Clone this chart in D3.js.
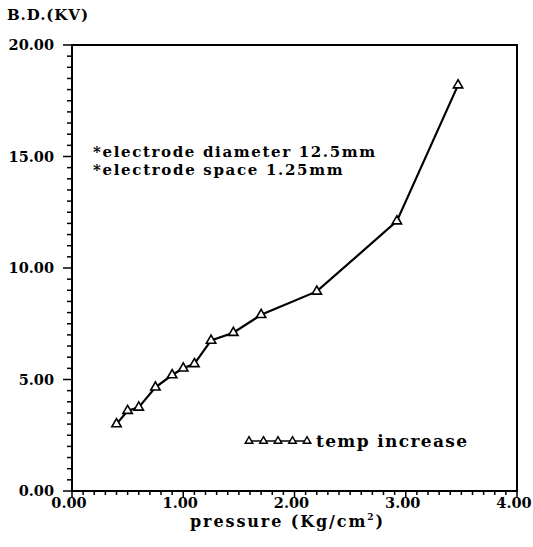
<!DOCTYPE html>
<html>
<head>
<meta charset="utf-8">
<script src="https://cdn.jsdelivr.net/npm/d3@7"></script>
<style>
  body { margin: 0; background: #fff; }
  text { font-family: "DejaVu Serif", serif; font-weight: bold; fill: #000; }
</style>
</head>
<body>
<div id="chart"></div>
<script>
// data
const pressure = [0.40, 0.50, 0.60, 0.75, 0.90, 1.00, 1.10, 1.25, 1.45, 1.70, 2.20, 2.92, 3.47];
const breakdown = [3.0, 3.6, 3.75, 4.65, 5.2, 5.5, 5.7, 6.75, 7.1, 7.9, 8.95, 12.1, 18.2];
const xTickLabels = ["0.00", "1.00", "2.00", "3.00", "4.00"];
const yTickLabels = ["0.00", "5.00", "10.00", "15.00", "20.00"];
const notes = ["*electrode diameter 12.5mm", "*electrode space 1.25mm"];
const seriesName = "temp increase";

const W = 533, H = 547;
const margin = { top: 45, right: 16, bottom: 56, left: 72 };
const width = W - margin.left - margin.right,
      height = H - margin.top - margin.bottom;

const svg = d3.select("#chart").append("svg")
    .attr("width", W)
    .attr("height", H);

const g = svg.append("g")
    .attr("transform", `translate(${margin.left},${margin.top})`);

const x = d3.scaleLinear().domain([0, 4]).range([0, width]);
const y = d3.scaleLinear().domain([0, 20]).range([height, 0]);

// minor ticks
const xMinor = d3.range(0, 41).map(i => i / 10);
const yMinor = d3.range(0, 41).map(i => i / 2);

g.selectAll(".xminor").data(xMinor).enter().append("line")
    .attr("x1", d => x(d)).attr("x2", d => x(d))
    .attr("y1", height).attr("y2", d => height + (d % 1 === 0 ? 7 : 4))
    .attr("stroke", "#000").attr("stroke-width", 1.5);

g.selectAll(".yminor").data(yMinor).enter().append("line")
    .attr("y1", d => y(d)).attr("y2", d => y(d))
    .attr("x1", 0).attr("x2", d => (d % 5 === 0 ? -9 : -5))
    .attr("stroke", "#000").attr("stroke-width", 1.5);

// frame
g.append("rect")
    .attr("width", width).attr("height", height)
    .attr("fill", "none").attr("stroke", "#000").attr("stroke-width", 2);

// tick labels
g.selectAll(".xlab").data(xTickLabels).enter().append("text")
    .attr("x", d => x(+d) - 3)
    .attr("y", height + 17)
    .attr("text-anchor", "middle")
    .style("font-size", "14.5px")
    .text(d => d);

g.selectAll(".ylab").data(yTickLabels).enter().append("text")
    .attr("x", -18)
    .attr("y", d => y(+d) + 5)
    .attr("text-anchor", "end")
    .style("font-size", "14.5px")
    .text(d => d);

// axis titles
svg.append("text")
    .attr("x", 7).attr("y", 20)
    .attr("textLength", 81)
    .style("font-size", "15px")
    .text("B.D.(KV)");

const xt = svg.append("text")
    .attr("x", 190).attr("y", 527)
    .style("font-size", "16px")
    .style("letter-spacing", "1.9px");
xt.append("tspan").text("pressure (Kg/cm");
xt.append("tspan").attr("dy", -7).style("font-size", "9px").text("2");
xt.append("tspan").attr("dy", 7).text(")");

// notes
svg.selectAll(".note").data(notes).enter().append("text")
    .attr("x", 93)
    .attr("y", (d, i) => 157 + i * 18)
    .attr("textLength", d => d.length * 10.85)
    .style("font-size", "15px")
    .text(d => d);

// series
const line = d3.line()
    .x((d, i) => x(pressure[i]))
    .y(d => y(d));

g.append("path")
    .datum(breakdown)
    .attr("d", line)
    .attr("fill", "none")
    .attr("stroke", "#000")
    .attr("stroke-width", 2.2);

const tri = d3.symbol().type(d3.symbolTriangle).size(38);

g.selectAll(".pt").data(breakdown).enter().append("path")
    .attr("d", tri)
    .attr("transform", (d, i) => `translate(${x(pressure[i])},${y(d)})`)
    .attr("fill", "#fff")
    .attr("stroke", "#000")
    .attr("stroke-width", 1.6);

// legend
const legX = d3.range(5).map(i => 249 + i * 14.5);
svg.append("line")
    .attr("x1", legX[0]).attr("x2", legX[4])
    .attr("y1", 441).attr("y2", 441)
    .attr("stroke", "#000").attr("stroke-width", 1.5);
svg.selectAll(".legpt").data(legX).enter().append("path")
    .attr("d", d3.symbol().type(d3.symbolTriangle).size(24))
    .attr("transform", d => `translate(${d},441)`)
    .attr("fill", "#fff")
    .attr("stroke", "#000")
    .attr("stroke-width", 1.5);
svg.append("text")
    .attr("x", 316).attr("y", 447)
    .attr("textLength", 151)
    .style("font-size", "17px")
    .text(seriesName);
</script>
</body>
</html>
